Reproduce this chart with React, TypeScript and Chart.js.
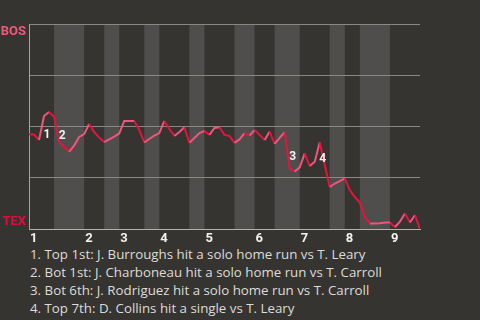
import { useEffect, useRef } from "react";
import { Chart, registerables } from "chart.js";

Chart.register(...registerables);

// Boston win probability (%) after each plate appearance
const bosWinPct = [
  46.2, 46.1, 43.4, 55.1, 57.1, 54.8, 42.4, 40.1, 37.6, 40.7,
  44.9, 46.3, 51.2, 47.3, 44.6, 42.4, 43.7, 45.1, 46.6, 52.7,
  52.7, 52.7, 48.3, 42.2, 43.9, 45.6, 46.8, 52.7, 48.8, 45.4,
  47.3, 49.6, 42.1, 44.4, 46.8, 47.8, 45.9, 49.3, 49.6, 45.9,
  45.4, 42.0, 43.7, 46.8, 45.6, 48.3, 45.9, 43.4, 47.5, 41.5,
  44.4, 47.2, 29.6, 28.0, 30.1, 36.9, 30.7, 32.8, 42.3, 31.2,
  20.5, 22.2, 23.4, 24.7, 19.0, 15.6, 12.9, 5.9, 2.7, 2.7,
  2.8, 3.2, 3.2, 1.0, 3.6, 7.6, 3.2, 6.8, 0,
];

// plate appearances in each half inning, top 1st through top 9th
const halfInningPAs = [5, 6, 4, 3, 5, 3, 6, 3, 6, 4, 4, 5, 6, 3, 3, 6, 6];
const inningLabels = ["1", "2", "3", "4", "5", "6", "7", "8", "9"];

const awayTeam = "BOS";
const homeTeam = "TEX";

// plate appearance index where each numbered play happened
const noteIndex = [3, 6, 52, 58];
const noteLabels = ["1", "2", "3", "4"];
const notes = [
  "1. Top 1st: J. Burroughs hit a solo home run vs T. Leary",
  "2. Bot 1st: J. Charboneau hit a solo home run vs T. Carroll",
  "3. Bot 6th: J. Rodriguez hit a solo home run vs T. Carroll",
  "4. Top 7th: D. Collins hit a single vs T. Leary",
];

const BG = "#363430";
const BAND = "#4f4e4c";
const AWAY_COLOR = "#ec5a7c";
const HOME_COLOR = "#d90f3d";
const UP_LINE = "#f2557c";
const DOWN_LINE = "#e3143f";
const FONT = "Roboto, 'Noto Sans', sans-serif";
const NOTE_FONT = "'Open Sans', Roboto, sans-serif";

function halfInningStarts(): number[] {
  const starts: number[] = [];
  let acc = 0;
  for (const n of halfInningPAs) {
    starts.push(acc);
    acc += n;
  }
  starts.push(acc);
  return starts;
}

const gamePlugin = {
  id: "gameDecor",
  beforeDraw(chart: any) {
    const { ctx, chartArea, scales } = chart;
    const x = scales.x;
    const starts = halfInningStarts();
    ctx.save();
    ctx.fillStyle = BG;
    ctx.fillRect(0, 0, chart.width, chart.height);
    ctx.fillStyle = BAND;
    for (let h = 1; h < halfInningPAs.length; h += 2) {
      const x0 = x.getPixelForValue(starts[h]);
      const x1 = x.getPixelForValue(starts[h + 1]);
      ctx.fillRect(x0, chartArea.top, x1 - x0, chartArea.bottom - chartArea.top);
    }
    ctx.restore();
  },
  afterDraw(chart: any) {
    const { ctx, chartArea, scales } = chart;
    const x = scales.x;
    const y = scales.y;
    const starts = halfInningStarts();
    ctx.save();

    // team names at the ends of the probability axis
    ctx.font = `bold 13px ${FONT}`;
    ctx.textAlign = "right";
    ctx.textBaseline = "top";
    ctx.fillStyle = AWAY_COLOR;
    ctx.fillText(awayTeam, chartArea.left - 3, chartArea.top + 1);
    ctx.textBaseline = "bottom";
    ctx.fillStyle = HOME_COLOR;
    ctx.fillText(homeTeam, chartArea.left - 3, chartArea.bottom - 1);

    // inning numbers at the start of each inning
    ctx.font = `bold 13px ${FONT}`;
    ctx.fillStyle = "#f2f2f2";
    ctx.textAlign = "left";
    ctx.textBaseline = "top";
    inningLabels.forEach((lab, i) => {
      const px = x.getPixelForValue(starts[i * 2]);
      ctx.fillText(lab, px + 1, chartArea.bottom + 3);
    });

    // numbered play markers
    ctx.font = `bold 12px ${FONT}`;
    ctx.textAlign = "center";
    ctx.textBaseline = "middle";
    noteIndex.forEach((idx, i) => {
      const px = x.getPixelForValue(idx);
      const midY = (y.getPixelForValue(bosWinPct[idx - 1]) + y.getPixelForValue(bosWinPct[idx])) / 2;
      ctx.fillText(noteLabels[i], px + 3, midY + 7);
    });
    ctx.restore();
  },
};

export default function App() {
  const canvasRef = useRef<HTMLCanvasElement | null>(null);

  useEffect(() => {
    document.body.style.margin = "0";
    document.body.style.background = BG;
    const canvas = canvasRef.current;
    if (!canvas) return;
    const chart = new Chart(canvas, {
      type: "line",
      data: {
        datasets: [
          {
            data: bosWinPct.map((v, i) => ({ x: i, y: v })),
            borderWidth: 2,
            borderColor: UP_LINE,
            pointRadius: 0,
            tension: 0,
            segment: {
              borderColor: (c: any) => (c.p1.parsed.y >= c.p0.parsed.y ? UP_LINE : DOWN_LINE),
            },
          },
        ],
      },
      options: {
        animation: false,
        responsive: false,
        layout: { padding: { top: 24, left: 29, right: 60, bottom: 16 } },
        plugins: { legend: { display: false }, tooltip: { enabled: false } },
        scales: {
          x: {
            type: "linear",
            min: 0,
            max: bosWinPct.length - 1,
            ticks: { display: false },
            grid: { display: false, drawTicks: false },
            border: { display: true, color: "#b4b2ae", width: 1 },
          },
          y: {
            min: 0,
            max: 100,
            ticks: { display: false, stepSize: 25 },
            grid: { color: "#8a8884", drawTicks: false, lineWidth: 1 },
            border: { display: true, color: "#a8a6a2", width: 1 },
          },
        },
      },
      plugins: [gamePlugin],
    });
    return () => chart.destroy();
  }, []);

  return (
    <div style={{ position: "relative", width: 480, height: 320, background: BG, overflow: "hidden" }}>
      <canvas ref={canvasRef} width={480} height={245} style={{ position: "absolute", left: 0, top: 0 }} />
      <div
        style={{
          position: "absolute",
          left: 30,
          top: 245,
          color: "#dedcd8",
          fontFamily: NOTE_FONT,
          fontSize: 13.3,
          lineHeight: "18px",
          whiteSpace: "nowrap",
        }}
      >
        {notes.map((n) => (
          <div key={n}>{n}</div>
        ))}
      </div>
    </div>
  );
}
